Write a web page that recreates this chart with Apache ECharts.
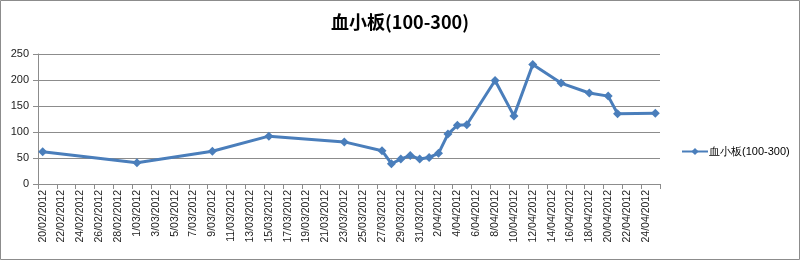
<!DOCTYPE html>
<html>
<head>
<meta charset="utf-8">
<script src="https://cdn.jsdelivr.net/npm/echarts@6/dist/echarts.min.js"></script>
<style>
html,body{margin:0;padding:0;background:#fff;}
#c{width:800px;height:260px;}
</style>
</head>
<body>
<div id="c"></div>
<script>
var title = '血小板(100-300)';
var seriesName = '血小板(100-300)';
var axisStart = '2012-02-20';
var axisDays = 66;
var dates = ['2012-02-20','2012-03-01','2012-03-09','2012-03-15','2012-03-23','2012-03-27','2012-03-28','2012-03-29','2012-03-30','2012-03-31','2012-04-01','2012-04-02','2012-04-03','2012-04-04','2012-04-05','2012-04-08','2012-04-10','2012-04-12','2012-04-15','2012-04-18','2012-04-20','2012-04-21','2012-04-25'];
var values = [62,41,63,92,81,64,39,48,55,48,51,59,96,113,114,199,131,230,194,175,169,135,136];
var yTicks = [0,50,100,150,200,250];

function fmt(d){
  var dd = d.getUTCDate();
  var mm = d.getUTCMonth()+1;
  return dd + '/' + (mm<10?'0':'') + mm + '/' + d.getUTCFullYear();
}
var start = new Date(axisStart + 'T00:00:00Z');
var categories = [];
var keyIndex = {};
for (var i=0;i<axisDays;i++){
  var d = new Date(start.getTime() + i*86400000);
  categories.push(fmt(d));
  keyIndex[d.toISOString().slice(0,10)] = i;
}
var seriesData = categories.map(function(){return null;});
dates.forEach(function(k,j){ seriesData[keyIndex[k]] = values[j]; });

var chart = echarts.init(document.getElementById('c'), null, {renderer:'canvas'});
chart.setOption({
  animation:false,
  backgroundColor:'#fff',
  title:{
    text:title, left:'center', top:8,
    textStyle:{fontFamily:'Noto Sans CJK SC', fontSize:18, fontWeight:'bold', color:'#000'}
  },
  graphic:[{type:'rect', shape:{x:0.5,y:0.5,width:799,height:259}, style:{fill:'none', stroke:'#8c8c8c', lineWidth:1}, silent:true}],
  legend:{
    data:[seriesName], left:676, top:141, itemWidth:26, itemHeight:9, itemGap:2,
    textStyle:{fontFamily:'Liberation Sans', fontSize:11, color:'#000', padding:[0,0,0,-4]}
  },
  grid:{left:38, right:140, top:54, bottom:76, containLabel:false},
  xAxis:{
    type:'category', data:categories, boundaryGap:true,
    axisLine:{lineStyle:{color:'#8c8c8c', width:1}},
    axisTick:{show:true, interval:1, length:5, lineStyle:{color:'#8c8c8c'}},
    axisLabel:{rotate:90, interval:1, fontFamily:'Liberation Sans', fontSize:10.5, color:'#222', margin:6}
  },
  yAxis:{
    type:'value', min:yTicks[0], max:yTicks[yTicks.length-1], interval:50,
    axisLine:{show:true, lineStyle:{color:'#8c8c8c', width:1}},
    axisTick:{show:true, length:5, lineStyle:{color:'#8c8c8c'}},
    axisLabel:{fontFamily:'Liberation Sans', fontSize:11, color:'#222', margin:9},
    splitLine:{lineStyle:{color:'#8c8c8c', width:1}}
  },
  series:[{
    name:seriesName, type:'line', data:seriesData, connectNulls:true,
    symbol:'diamond', symbolSize:9, showAllSymbol:true,
    lineStyle:{color:'#4a7ebb', width:3},
    itemStyle:{color:'#4a7ebb'}
  }]
});
</script>
</body>
</html>
